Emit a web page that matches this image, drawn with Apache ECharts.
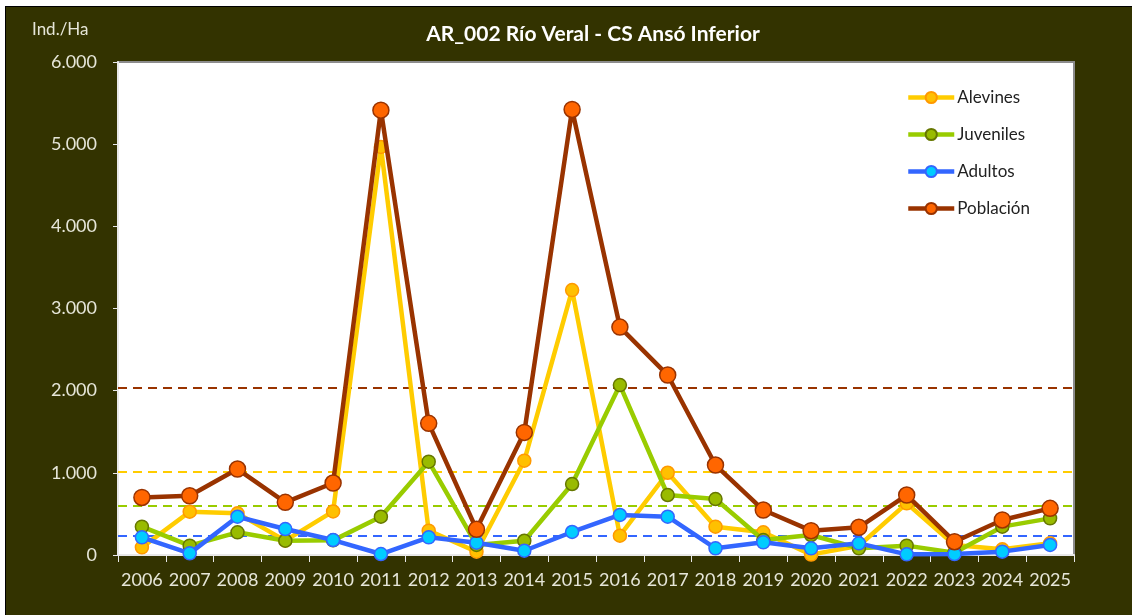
<!DOCTYPE html>
<html>
<head>
<meta charset="utf-8">
<script src="https://cdn.jsdelivr.net/npm/echarts@6/dist/echarts.min.js"></script>
<style>
html,body{margin:0;padding:0;background:#ffffff;overflow:hidden;width:1132px;height:615px;}
#frame{position:absolute;left:5px;top:6px;width:1127px;height:609px;border-left:1px solid #000;border-top:1px solid #000;background:#333300;}
#chart{position:absolute;left:6px;top:7px;width:1126px;height:608px;}
</style>
</head>
<body>
<div id="frame"></div>
<div id="chart"></div>
<script>
const years = ['2006','2007','2008','2009','2010','2011','2012','2013','2014','2015','2016','2017','2018','2019','2020','2021','2022','2023','2024','2025'];
const alevines  = [93, 527, 507, 175, 530, 4967, 296, 40, 1148, 3224, 235, 1001, 345, 276, 5, 113, 629, 122, 69, 142];
const juveniles = [345, 114, 276, 174, 178, 466, 1136, 122, 174, 864, 2068, 730, 681, 182, 243, 81, 114, 28, 345, 446];
const adultos   = [215, 20, 466, 316, 182, 12, 215, 150, 52, 280, 487, 466, 81, 154, 81, 142, 8, 12, 41, 122];
const poblacion = [700, 721, 1046, 641, 876, 5414, 1602, 312, 1492, 5422, 2774, 2190, 1095, 547, 296, 337, 730, 162, 426, 568];
// reference (threshold) levels
const refAlevines = 1010;
const refJuveniles = 596;
const refAdultos = 231;
const refPoblacion = 2031;
const yTicks = [0, 1000, 2000, 3000, 4000, 5000, 6000];

const chart = echarts.init(document.getElementById('chart'));
const fmt = v => v === 0 ? '0' : String(v).replace(/\B(?=(\d{3})+(?!\d))/g, '.');

function mk(name, data, lineColor, fill, border, size, refVal, refColor, z) {
  return {
    name: name, type: 'line', data: data, z: z,
    symbol: 'circle', symbolSize: size,
    lineStyle: { color: lineColor, width: 4.5 },
    itemStyle: { color: fill, borderColor: border, borderWidth: 1.5 },
    emphasis: { disabled: true },
    markLine: {
      silent: true, symbol: 'none', z: 1,
      label: { show: false },
      lineStyle: { color: refColor, type: [9, 6], width: 2.2 },
      data: [{ yAxis: refVal }]
    }
  };
}

chart.setOption({
  animation: false,
  backgroundColor: 'transparent',
  textStyle: { fontFamily: 'Lato' },
  title: {
    text: 'AR_002 Río Veral - CS Ansó Inferior',
    left: 582, textAlign: 'center', top: 12,
    textStyle: { color: '#ffffff', fontSize: 21, fontWeight: 'bold', fontFamily: 'Lato' }
  },
  graphic: [{
    type: 'text', left: 26, top: 14,
    style: { text: 'Ind./Ha', fill: '#e6e6d8', fontSize: 17, fontFamily: 'Lato' }
  }],
  legend: {
    orient: 'vertical', left: 895, top: 77,
    itemWidth: 46, itemHeight: 14, itemGap: 20,
    lineStyle: { width: 4.5 },
    textStyle: { color: '#222222', fontSize: 17, fontFamily: 'Lato', padding: [0, 0, 0, -2] },
    data: ['Alevines', 'Juveniles', 'Adultos', 'Población']
  },
  grid: {
    left: 112, top: 55, right: 58, bottom: 60,
    show: true, backgroundColor: '#ffffff', borderColor: '#8c8c8c', borderWidth: 2
  },
  xAxis: {
    type: 'category', data: years, boundaryGap: true,
    axisLine: { lineStyle: { color: '#e8e8e8', width: 2 } },
    axisTick: { show: true, length: 7, lineStyle: { color: '#e8e8e8' } },
    axisLabel: { interval: 0, hideOverlap: false, color: '#e6e6d8', fontSize: 18, margin: 16, fontFamily: 'Lato' },
    splitLine: { show: false }
  },
  yAxis: {
    type: 'value', min: yTicks[0], max: yTicks[yTicks.length - 1], interval: 1000,
    axisLine: { show: true, lineStyle: { color: '#e8e8e8', width: 2 } },
    axisTick: { show: true, length: 5, lineStyle: { color: '#e8e8e8' } },
    axisLabel: { color: '#e6e6d8', fontSize: 18, margin: 21, fontFamily: 'Lato', formatter: fmt },
    splitLine: { show: false }
  },
  series: [
    mk('Alevines', alevines, '#ffcc00', '#ffc000', '#ff9900', 13, refAlevines, '#ffcc00', 2),
    mk('Juveniles', juveniles, '#99cc00', '#99bb00', '#667700', 13, refJuveniles, '#99cc00', 3),
    mk('Adultos', adultos, '#3366ff', '#00ccff', '#3366ff', 13, refAdultos, '#3366ff', 4),
    mk('Población', poblacion, '#993300', '#ff6600', '#993300', 16, refPoblacion, '#993300', 5)
  ]
});
</script>
</body>
</html>
